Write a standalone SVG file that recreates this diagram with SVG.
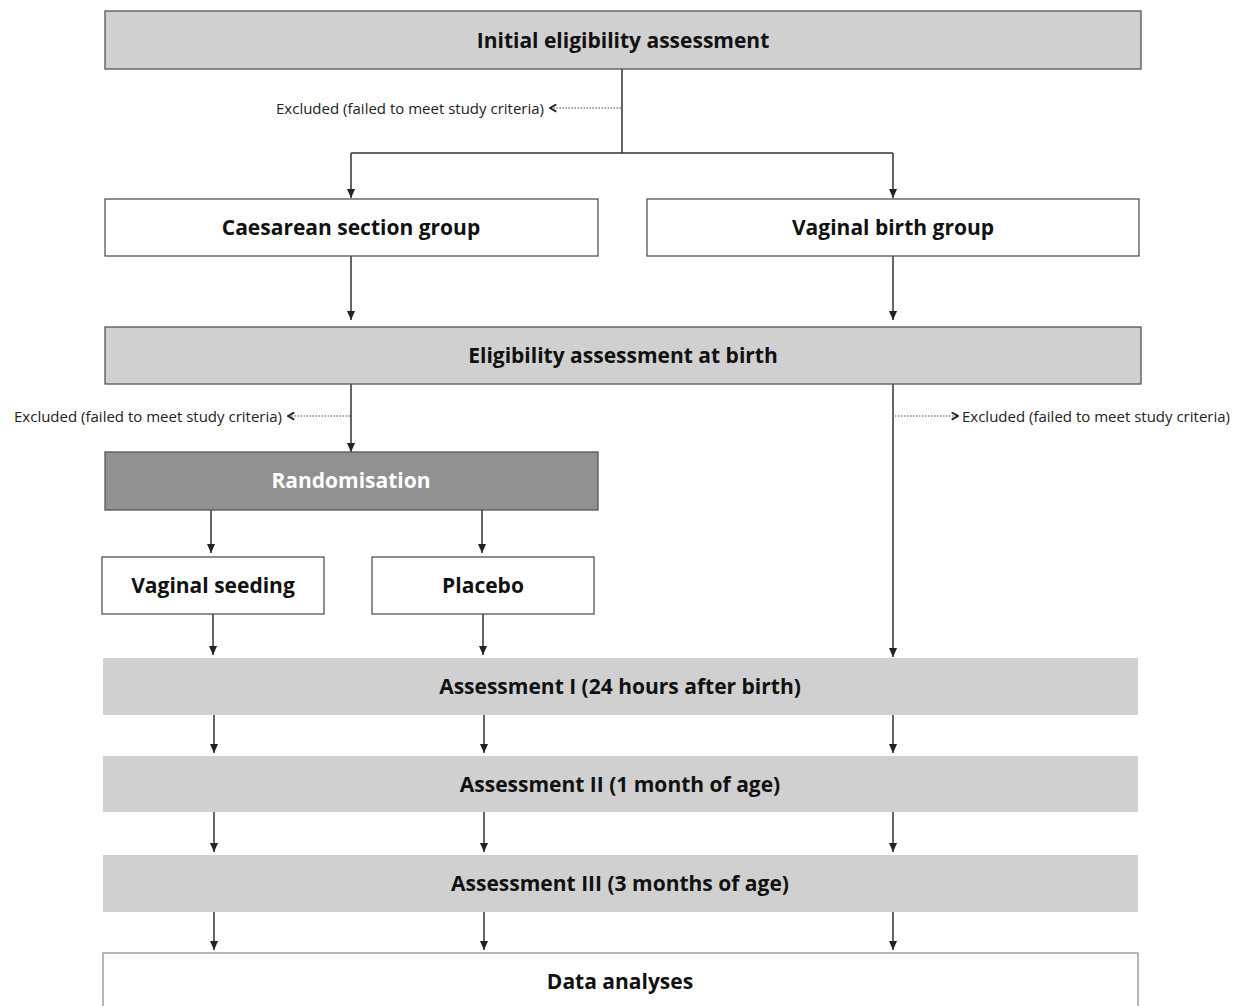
<svg xmlns="http://www.w3.org/2000/svg" width="1241" height="1006" viewBox="0 0 1241 1006">
<defs>
<marker id="ah" viewBox="0 0 10 10" refX="10" refY="5" markerWidth="9" markerHeight="9" markerUnits="userSpaceOnUse" orient="auto">
<path d="M0,0.5 L10,5 L0,9.5 Z" fill="#222"/>
</marker>
<marker id="chev" viewBox="0 0 10 10" refX="9" refY="5" markerWidth="9" markerHeight="9" markerUnits="userSpaceOnUse" orient="auto">
<path d="M2,1 L9,5 L2,9" fill="none" stroke="#222" stroke-width="2"/>
</marker>
</defs>
<style>
.gray{fill:#d0d0d0;stroke:#555;stroke-width:1.3}
.white{fill:#fff;stroke:#555;stroke-width:1.3}
.dark{fill:#919191;stroke:#555;stroke-width:1.3}
.band{fill:#d0d0d0}
.wb{fill:#fff;stroke:#888;stroke-width:1.2}
.t{font-family:"Open Sans","Noto Sans",sans-serif;font-weight:bold;font-size:21px;fill:#111;text-anchor:middle;dominant-baseline:central}
.tw{fill:#fff}
.ex{font-family:"Open Sans","Noto Sans",sans-serif;font-size:15px;fill:#222;dominant-baseline:central}
.ln{fill:none;stroke:#333;stroke-width:1.5}
.dot{fill:none;stroke:#444;stroke-width:1.2;stroke-dasharray:1.5 1.5}
</style>
<g id="connectors">
<path class="ln" d="M622,69 V153 M351,153 H893"/>
<path class="ln" d="M351,153 V198" marker-end="url(#ah)"/>
<path class="ln" d="M893,153 V198" marker-end="url(#ah)"/>
<path class="dot" d="M621,108 H550" marker-end="url(#chev)"/>
<path class="ln" d="M351,256 V320" marker-end="url(#ah)"/>
<path class="ln" d="M893,256 V320" marker-end="url(#ah)"/>
<path class="ln" d="M351,384 V452" marker-end="url(#ah)"/>
<path class="dot" d="M350,416 H288" marker-end="url(#chev)"/>
<path class="ln" d="M893,384 V657" marker-end="url(#ah)"/>
<path class="dot" d="M895,416 H958" marker-end="url(#chev)"/>
<path class="ln" d="M211,510 V553" marker-end="url(#ah)"/>
<path class="ln" d="M482,510 V553" marker-end="url(#ah)"/>
<path class="ln" d="M213,614 V655" marker-end="url(#ah)"/>
<path class="ln" d="M483,614 V655" marker-end="url(#ah)"/>
<path class="ln" d="M214,715 V753" marker-end="url(#ah)"/>
<path class="ln" d="M484,715 V753" marker-end="url(#ah)"/>
<path class="ln" d="M893,715 V753" marker-end="url(#ah)"/>
<path class="ln" d="M214,812 V852" marker-end="url(#ah)"/>
<path class="ln" d="M484,812 V852" marker-end="url(#ah)"/>
<path class="ln" d="M893,812 V852" marker-end="url(#ah)"/>
<path class="ln" d="M214,912 V950" marker-end="url(#ah)"/>
<path class="ln" d="M484,912 V950" marker-end="url(#ah)"/>
<path class="ln" d="M893,912 V950" marker-end="url(#ah)"/>
<text class="ex" x="544" y="108" text-anchor="end">Excluded (failed to meet study criteria)</text>
<text class="ex" x="282" y="416" text-anchor="end">Excluded (failed to meet study criteria)</text>
<text class="ex" x="962" y="416">Excluded (failed to meet study criteria)</text>
</g>
<g id="initial">
<rect class="gray" x="105" y="11" width="1036" height="58"/>
<text class="t" x="623" y="40">Initial eligibility assessment</text>
</g>
<g id="caesarean">
<rect class="white" x="105" y="199" width="493" height="57"/>
<text class="t" x="351" y="227">Caesarean section group</text>
</g>
<g id="vaginal">
<rect class="white" x="647" y="199" width="492" height="57"/>
<text class="t" x="893" y="227">Vaginal birth group</text>
</g>
<g id="eligibility-birth">
<rect class="gray" x="105" y="327" width="1036" height="57"/>
<text class="t" x="623" y="355">Eligibility assessment at birth</text>
</g>
<g id="randomisation">
<rect class="dark" x="105" y="452" width="493" height="58"/>
<text class="t tw" x="351" y="480">Randomisation</text>
</g>
<g id="vaginal-seeding">
<rect class="white" x="102" y="557" width="222" height="57"/>
<text class="t" x="213" y="585">Vaginal seeding</text>
</g>
<g id="placebo">
<rect class="white" x="372" y="557" width="222" height="57"/>
<text class="t" x="483" y="585">Placebo</text>
</g>
<g id="assessment-1">
<rect class="band" x="103" y="658" width="1035" height="57"/>
<text class="t" x="620" y="686">Assessment I (24 hours after birth)</text>
</g>
<g id="assessment-2">
<rect class="band" x="103" y="756" width="1035" height="56"/>
<text class="t" x="620" y="784">Assessment II (1 month of age)</text>
</g>
<g id="assessment-3">
<rect class="band" x="103" y="855" width="1035" height="57"/>
<text class="t" x="620" y="883">Assessment III (3 months of age)</text>
</g>
<g id="data-analyses">
<rect class="wb" x="103" y="953" width="1035" height="60"/>
<text class="t" x="620" y="981">Data analyses</text>
</g>
</svg>
